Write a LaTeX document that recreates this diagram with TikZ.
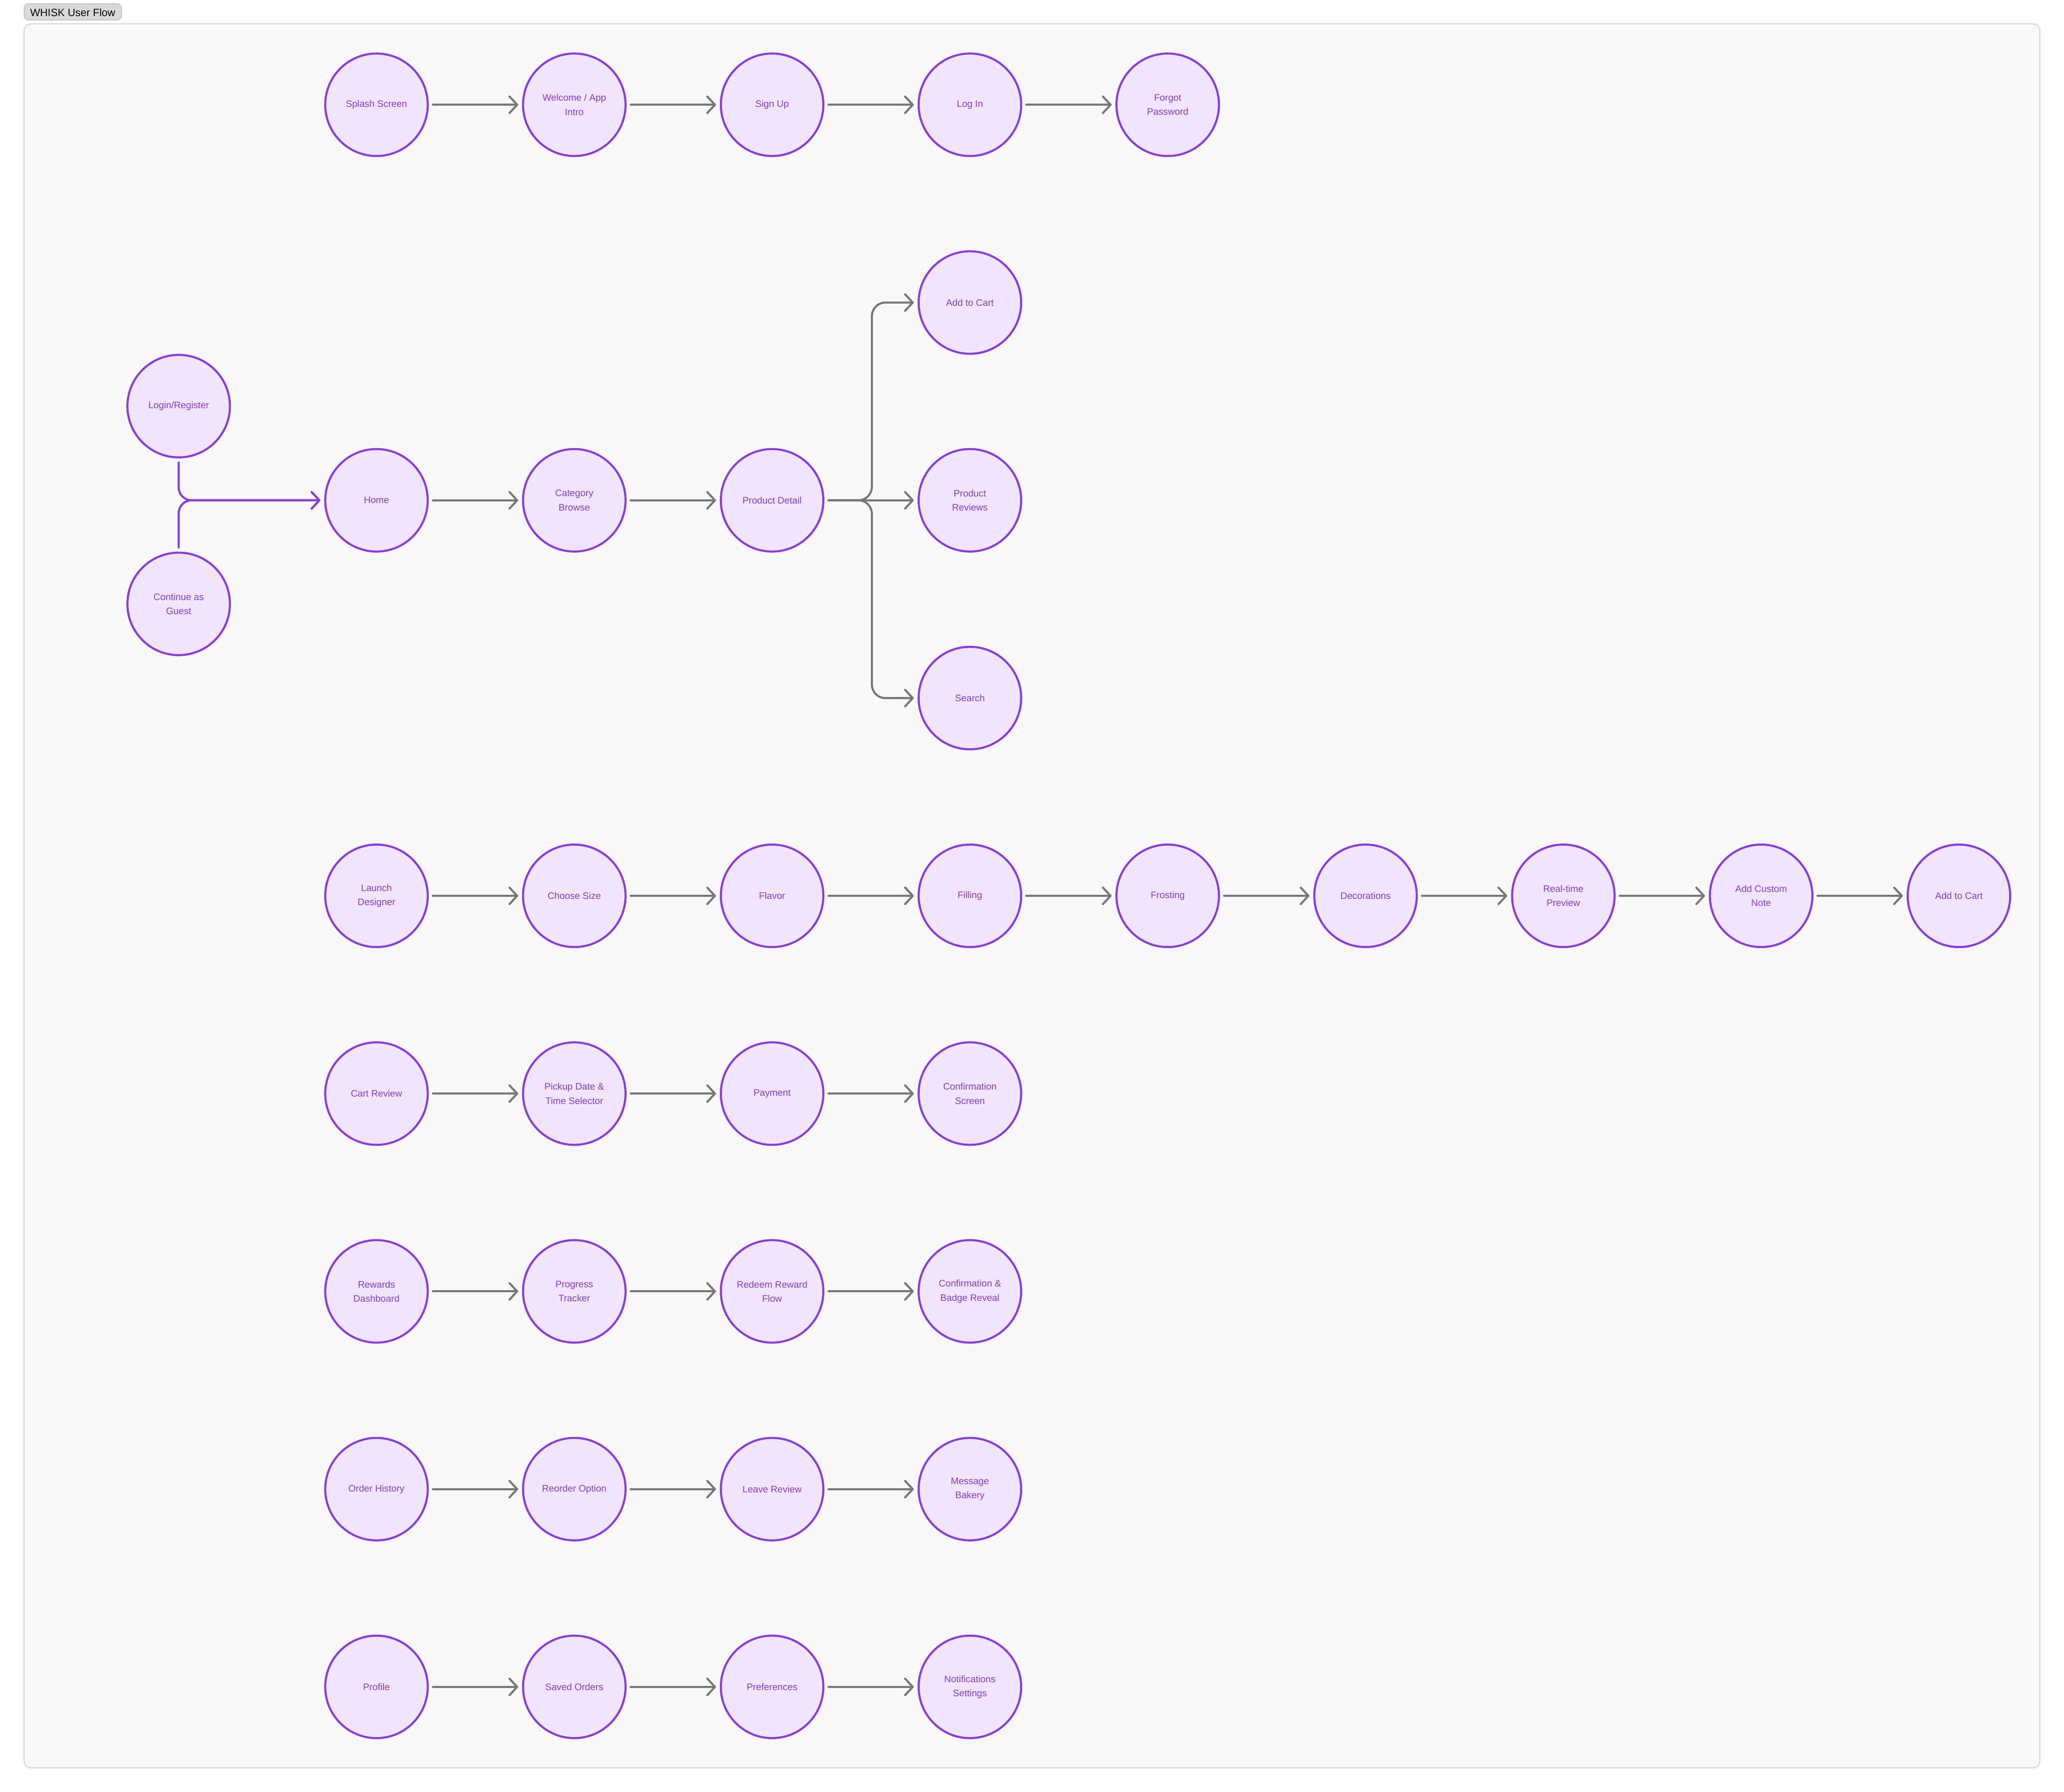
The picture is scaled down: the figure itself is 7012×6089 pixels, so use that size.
\documentclass[tikz,border=0pt]{standalone}
\usepackage{fontspec}
\setmainfont{Liberation Sans}
\usetikzlibrary{arrows.meta}
\definecolor{whpurple}{HTML}{8A3AE6}
\definecolor{whfill}{HTML}{F2E5FF}
\definecolor{whgray}{HTML}{777777}
\definecolor{whpanel}{HTML}{F9F9F9}
\definecolor{whpanelline}{HTML}{DADADA}
\definecolor{whtag}{HTML}{D9D9D9}
\definecolor{whtagline}{HTML}{C2C2C2}
\tikzset{
  screen/.style={circle, draw=whpurple, fill=whfill, line width=0.07cm,
    minimum size=3.48cm, inner sep=0pt, text=whpurple, align=center,
    font=\fontsize{9.1}{13.66}\selectfont},
  flow/.style={draw=whgray, line width=0.07cm, line cap=round,
    -{Straight Barb[length=0.26cm, width=0.56cm, line cap=round, line join=round]},
    shorten <=0.14cm, shorten >=0.13cm},
  joinflow/.style={flow, draw=whpurple, rounded corners=0.44cm},
  branchflow/.style={flow, rounded corners=0.46cm},
}
\begin{document}
\begin{tikzpicture}[x=0.01cm,y=-0.01cm]
\useasboundingbox (0,0) rectangle (7012,6089);
\fill[white] (0,0) rectangle (7012,6089);
% panel
\draw[fill=whpanel, draw=whpanelline, line width=0.04cm, rounded corners=0.24cm] (82,81) rectangle (6930,6007);
% title tag
\draw[fill=whtag, draw=whtagline, line width=0.03cm, rounded corners=0.15cm] (82,13) rectangle (413,68);
\node[font=\fontsize{10.2}{12}\selectfont, text=black, inner sep=0pt] (title) at (247,43) {WHISK User Flow};

% row 1
\node[screen] (splash) at (1279,356) {Splash Screen};
\node[screen] (welcome) at (1951,356) {Welcome / App\\Intro};
\node[screen] (signup) at (2623,356) {Sign Up};
\node[screen] (login) at (3295,356) {Log In};
\node[screen] (forgot) at (3967,356) {Forgot\\Password};
\draw[flow] (splash.east) -- (welcome.west);
\draw[flow] (welcome.east) -- (signup.west);
\draw[flow] (signup.east) -- (login.west);
\draw[flow] (login.east) -- (forgot.west);

% browse block
\node[screen] (logreg) at (607,1380) {Login/Register};
\node[screen] (guest) at (607,2052) {Continue as\\Guest};
\node[screen] (home) at (1279,1700) {Home};
\node[screen] (catb) at (1951,1700) {Category\\Browse};
\node[screen] (pdetail) at (2623,1700) {Product Detail};
\node[screen] (addcart) at (3295,1028) {Add to Cart};
\node[screen] (previews) at (3295,1700) {Product\\Reviews};
\node[screen] (search) at (3295,2372) {Search};
\draw[joinflow] (logreg.south) |- (home.west);
\draw[joinflow] (guest.north) |- (home.west);
\draw[flow] (home.east) -- (catb.west);
\draw[flow] (catb.east) -- (pdetail.west);
\coordinate (trunk) at (2962,1700);
\draw[branchflow] (pdetail.east) -- (trunk) |- (addcart.west);
\draw[flow] (pdetail.east) -- (previews.west);
\draw[branchflow] (pdetail.east) -- (trunk) |- (search.west);

% designer row
\node[screen] (launch) at (1279,3044) {Launch\\Designer};
\node[screen] (size) at (1951,3044) {Choose Size};
\node[screen] (flavor) at (2623,3044) {Flavor};
\node[screen] (filling) at (3295,3044) {Filling};
\node[screen] (frosting) at (3967,3044) {Frosting};
\node[screen] (decor) at (4639,3044) {Decorations};
\node[screen] (preview) at (5311,3044) {Real-time\\Preview};
\node[screen] (note) at (5983,3044) {Add Custom\\Note};
\node[screen] (addcart2) at (6655,3044) {Add to Cart};
\draw[flow] (launch.east) -- (size.west);
\draw[flow] (size.east) -- (flavor.west);
\draw[flow] (flavor.east) -- (filling.west);
\draw[flow] (filling.east) -- (frosting.west);
\draw[flow] (frosting.east) -- (decor.west);
\draw[flow] (decor.east) -- (preview.west);
\draw[flow] (preview.east) -- (note.west);
\draw[flow] (note.east) -- (addcart2.west);

% checkout row
\node[screen] (cart) at (1279,3716) {Cart Review};
\node[screen] (pickup) at (1951,3716) {Pickup Date \&\\Time Selector};
\node[screen] (payment) at (2623,3716) {Payment};
\node[screen] (confirm) at (3295,3716) {Confirmation\\Screen};
\draw[flow] (cart.east) -- (pickup.west);
\draw[flow] (pickup.east) -- (payment.west);
\draw[flow] (payment.east) -- (confirm.west);

% rewards row
\node[screen] (rewards) at (1279,4388) {Rewards\\Dashboard};
\node[screen] (progress) at (1951,4388) {Progress\\Tracker};
\node[screen] (redeem) at (2623,4388) {Redeem Reward\\Flow};
\node[screen] (badge) at (3295,4388) {Confirmation \&\\Badge Reveal};
\draw[flow] (rewards.east) -- (progress.west);
\draw[flow] (progress.east) -- (redeem.west);
\draw[flow] (redeem.east) -- (badge.west);

% orders row
\node[screen] (history) at (1279,5060) {Order History};
\node[screen] (reorder) at (1951,5060) {Reorder Option};
\node[screen] (review) at (2623,5060) {Leave Review};
\node[screen] (message) at (3295,5060) {Message\\Bakery};
\draw[flow] (history.east) -- (reorder.west);
\draw[flow] (reorder.east) -- (review.west);
\draw[flow] (review.east) -- (message.west);

% profile row
\node[screen] (profile) at (1279,5732) {Profile};
\node[screen] (saved) at (1951,5732) {Saved Orders};
\node[screen] (prefs) at (2623,5732) {Preferences};
\node[screen] (notif) at (3295,5732) {Notifications\\Settings};
\draw[flow] (profile.east) -- (saved.west);
\draw[flow] (saved.east) -- (prefs.west);
\draw[flow] (prefs.east) -- (notif.west);
\end{tikzpicture}
\end{document}
